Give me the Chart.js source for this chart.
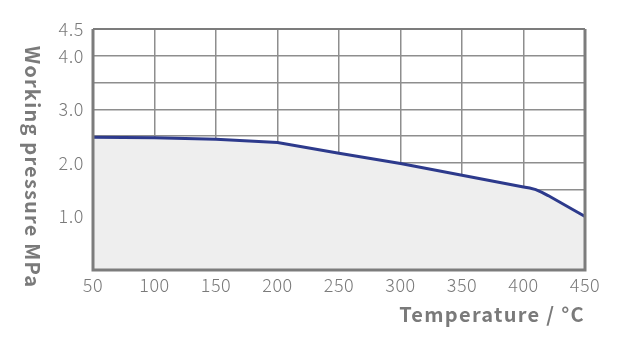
<!DOCTYPE html>
<html>
<head>
<meta charset="utf-8">
<script src="https://cdn.jsdelivr.net/npm/chart.js@4"></script>
<style>
  html, body { margin: 0; padding: 0; background: #fff; }
  #wrap { width: 639px; height: 346px; }
</style>
</head>
<body>
<div id="wrap"><canvas id="chart"></canvas></div>
<script>
/* ── Data ── */
const temps     = [50, 100, 150, 200, 250, 300, 350, 400, 405, 410, 415, 420, 430, 440, 450];
const pressures = [2.48, 2.47, 2.44, 2.38, 2.18, 1.99, 1.77, 1.55, 1.53, 1.50, 1.45, 1.39, 1.26, 1.13, 1.0];
const yLabels   = [1.0, 2.0, 3.0, 4.0, 4.5];
const xTitle    = 'Temperature / °C';
const yTitle    = 'Working pressure MPa';

const tc = '#7a7a7a', gc = '#8e8e8e';
const fam = "'Noto Sans CJK SC','Noto Sans',sans-serif";

/* frame + titles */
const framePlugin = {
  id: 'frame',
  beforeDraw(chart) {
    chart.ctx.letterSpacing = '0.6px';
  },
  afterDatasetsDraw(chart) {
    const { ctx, chartArea: a } = chart;
    ctx.save();
    ctx.strokeStyle = '#7c7c7c';
    ctx.lineWidth = 2;
    ctx.beginPath();
    ctx.moveTo(a.left, a.top); ctx.lineTo(a.right, a.top);
    ctx.stroke();
    ctx.lineWidth = 3;
    ctx.beginPath();
    ctx.moveTo(a.left, a.top); ctx.lineTo(a.left, a.bottom);
    ctx.lineTo(a.right, a.bottom); ctx.lineTo(a.right, a.top);
    ctx.stroke();
    ctx.restore();
  },
  afterDraw(chart) {
    const { ctx, chartArea: a } = chart;
    ctx.save();
    ctx.fillStyle = tc;
    ctx.font = 'bold 20px ' + fam;
    ctx.letterSpacing = '1.3px';
    ctx.textBaseline = 'middle';
    ctx.textAlign = 'right';
    ctx.fillText(xTitle, a.right, 314);
    ctx.translate(33, 167);
    ctx.rotate(Math.PI / 2);
    ctx.textAlign = 'center';
    ctx.letterSpacing = '1.2px';
    ctx.fillText(yTitle, 0, 0);
    ctx.restore();
  }
};

new Chart(document.getElementById('chart'), {
  type: 'line',
  data: {
    datasets: [{
      data: temps.map((t, i) => ({ x: t, y: pressures[i] })),
      borderColor: '#2d3a8c',
      backgroundColor: '#eeeeee',
      borderWidth: 3,
      fill: 'origin',
      pointRadius: 0,
      tension: 0
    }]
  },
  options: {
    responsive: true, maintainAspectRatio: false, animation: false,
    layout: { padding: { left: 0, right: 54, top: 29, bottom: 0 } },
    plugins: { legend: { display: false }, tooltip: { enabled: false } },
    scales: {
      x: {
        type: 'linear', min: 50, max: 450,
        afterFit: s => { s.height = 76; },
        grid: { color: gc, lineWidth: 1.5, drawTicks: false },
        border: { display: false },
        ticks: { stepSize: 50, padding: 4, color: tc, font: { family: fam, size: 18, weight: 300 } }
      },
      y: {
        min: 0, max: 4.5,
        afterFit: s => { s.width = 93; },
        grid: { color: gc, lineWidth: 1.5, drawTicks: false },
        border: { display: false },
        ticks: {
          stepSize: 0.5, padding: 9, color: tc, font: { family: fam, size: 18, weight: 300 },
          callback: v => yLabels.some(l => Math.abs(l - v) < 1e-6) ? v.toFixed(1) : ''
        }
      }
    }
  },
  plugins: [framePlugin]
});
</script>
</body>
</html>
